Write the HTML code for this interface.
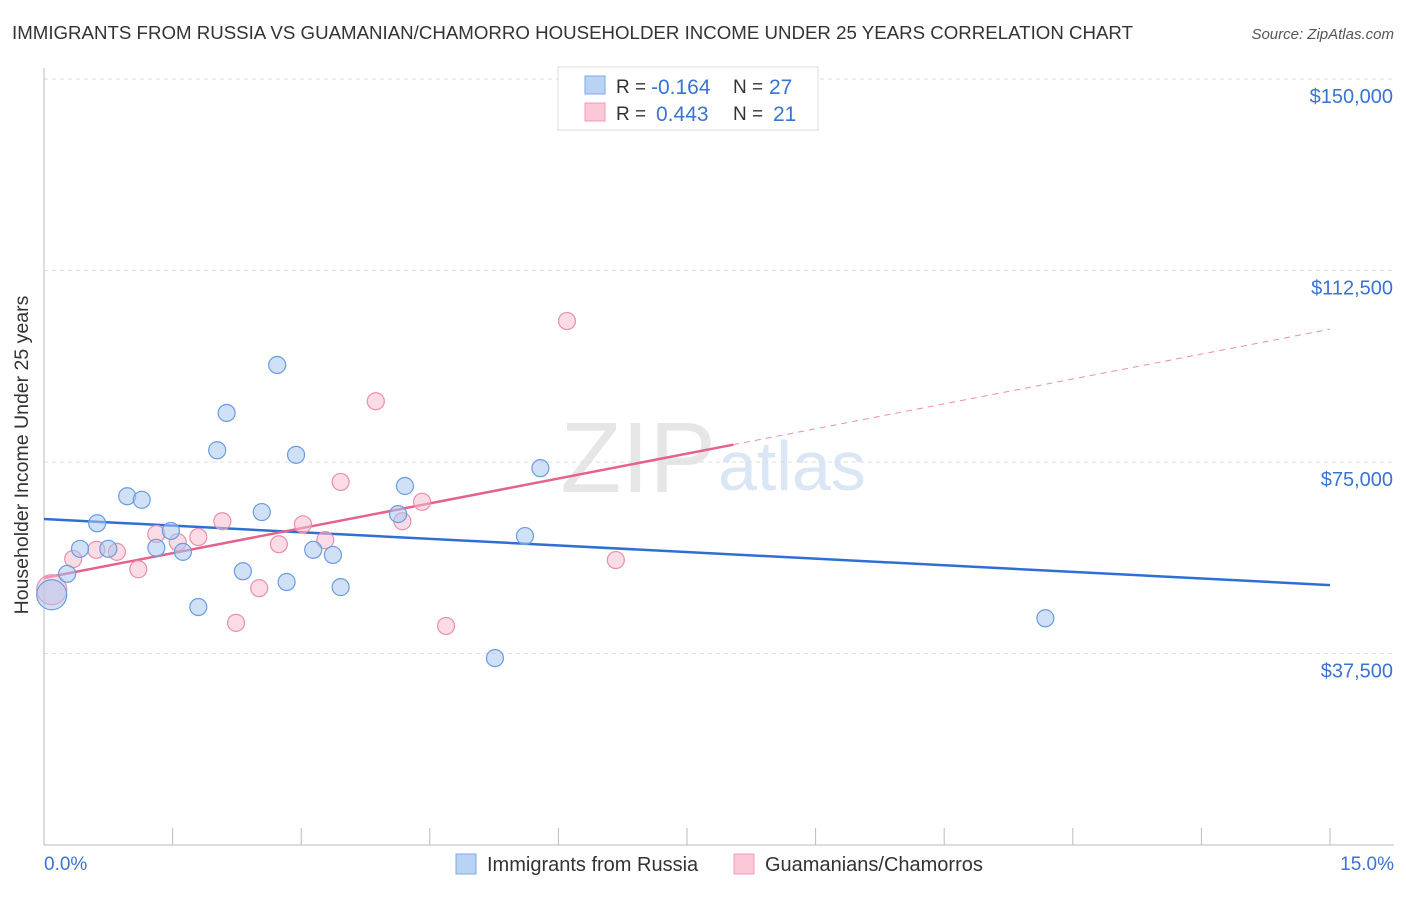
<!DOCTYPE html>
<html><head><meta charset="utf-8"><style>
body{margin:0;background:#fff;font-family:"Liberation Sans",sans-serif;}
svg text{font-family:"Liberation Sans",sans-serif;}
</style></head><body>
<svg id="chart" width="1406" height="892" xmlns="http://www.w3.org/2000/svg">
<text x="12" y="39" font-size="18" textLength="1121" lengthAdjust="spacingAndGlyphs" fill="#333">IMMIGRANTS FROM RUSSIA VS GUAMANIAN/CHAMORRO HOUSEHOLDER INCOME UNDER 25 YEARS CORRELATION CHART</text>
<text x="1394" y="39" font-size="15" fill="#555" font-style="italic" text-anchor="end">Source: ZipAtlas.com</text>
<text x="716" y="492" font-size="100" fill="#e6e6e6" font-family="Liberation Serif" text-anchor="end">ZIP</text>
<text x="718" y="490" font-size="70" fill="#dbe6f5">atlas</text>
<g id="grid"></g>
<line x1="44" y1="68" x2="44" y2="845" stroke="#bbb"/>
<line x1="44" y1="845" x2="1394" y2="845" stroke="#bbb"/>
<g id="lines"></g>
<g id="points"></g>
<text x="28" y="455" font-size="19.5" fill="#333" text-anchor="middle" transform="rotate(-90 28 455)">Householder Income Under 25 years</text>
<text x="44" y="870" font-size="19" fill="#3b73d1">0.0%</text>
<text x="1394" y="870" font-size="19" fill="#3b73d1" text-anchor="end">15.0%</text>
<g>
<rect x="558" y="67" width="260" height="63" fill="#fff" stroke="#ddd"/>
<rect x="585" y="76" width="20" height="18" fill="#b9d3f5" stroke="#7ea8e4"/>
<rect x="585" y="103" width="20" height="18" fill="#fbc8d8" stroke="#ec9bb5"/>
<text x="616" y="93" font-size="19" fill="#333">R =</text>
<text x="651" y="94" font-size="21" fill="#3b73d1">-0.164</text>
<text x="733" y="93" font-size="19" fill="#333">N =</text>
<text x="769" y="94" font-size="21" fill="#3b73d1">27</text>
<text x="616" y="120" font-size="19" fill="#333">R =</text>
<text x="656" y="121" font-size="21" fill="#3b73d1">0.443</text>
<text x="733" y="120" font-size="19" fill="#333">N =</text>
<text x="773" y="121" font-size="21" fill="#3b73d1">21</text>
</g>
<g>
<rect x="456" y="854" width="20" height="20" fill="#b9d3f5" stroke="#7ea8e4"/>
<text x="487" y="871" font-size="20" fill="#333">Immigrants from Russia</text>
<rect x="734" y="854" width="20" height="20" fill="#fbc8d8" stroke="#ec9bb5"/>
<text x="765" y="871" font-size="20" fill="#333">Guamanians/Chamorros</text>
</g>
</svg>
<script>
const yTicks=[37500,75000,112500,150000];
const yTickLabels=["$37,500","$75,000","$112,500","$150,000"];
const xTickVals=[0,1.5,3,4.5,6,7.5,9,10.5,12,13.5,15];
const russiaX=[2.72,2.13,2.02,2.94,0.97,1.14,4.21,2.54,4.13,0.62,1.48,0.42,0.75,1.31,1.62,3.14,3.37,0.27,2.32,2.83,3.46,1.80,0.09,5.79,5.61,5.26,11.68];
const russiaY=[94000,84600,77300,76400,68300,67600,70300,65200,64800,63000,61500,58000,58000,58200,57400,57800,56800,53100,53600,51500,50500,46600,49000,73800,60500,36600,44400];
const russiaSize=[1,1,1,1,1,1,1,1,1,1,1,1,1,1,1,1,1,1,1,1,1,1,2,1,1,1,1];
const guamX=[3.87,3.46,4.41,2.08,3.02,4.18,1.31,1.56,1.80,0.61,0.85,0.34,2.74,3.28,1.10,2.51,2.24,4.69,0.09,6.10,6.67];
const guamY=[86900,71100,67200,63400,62800,63400,60900,59300,60300,57800,57400,56000,58900,59700,54000,50300,43500,42900,50000,102600,55800];
const guamSize=[1,1,1,1,1,1,1,1,1,1,1,1,1,1,1,1,1,1,2,1,1];
const russiaTrend=[63830,50900];
const guamTrend=[52280,101000];
const guamSolidEnd=8.04;
const NS="http://www.w3.org/2000/svg";
const xs=v=>44+v/15*1286;
const ys=v=>845-v/37500*191.5;
function mk(tag,attrs,parent){const e=document.createElementNS(NS,tag);for(const k in attrs)e.setAttribute(k,attrs[k]);document.getElementById(parent).appendChild(e);return e;}
yTicks.forEach((t,i)=>{
 const l=mk('line',{x1:44,x2:1394,y1:ys(t),y2:ys(t),stroke:'#ddd','stroke-dasharray':'4,4'},'grid');
 
 
 const tx=mk('text',{x:1393,y:ys(t)+24,'font-size':20,fill:'#3b73d1','text-anchor':'end'},'grid');
 tx.textContent=yTickLabels[i];
 
 
});
xTickVals.forEach(v=>{
 const l=mk('line',{x1:xs(v),x2:xs(v),y1:828,y2:845,stroke:'#bbb'},'grid');
 
 
});
function pts(X,Y,S,fill,stroke,name){
 X.forEach((x,i)=>{
  const c=mk('circle',{cx:xs(x),cy:ys(Y[i]),r:S[i]>1?15:8.5,fill:fill,'fill-opacity':0.55,stroke:stroke,'stroke-width':1.2},'points');
  
  
 });
}
pts(guamX,guamY,guamSize,'#f8bed1','#e98fad','guamanian-point');
pts(russiaX,russiaY,russiaSize,'#a9c7ef','#6a9ce0','russia-point');
let l1=mk('line',{x1:xs(0),y1:ys(russiaTrend[0]),x2:xs(15),y2:ys(russiaTrend[1]),stroke:'#2f6fd4','stroke-width':2.5},'lines');


const gAt=x=>guamTrend[0]+(guamTrend[1]-guamTrend[0])*x/15;
let l2=mk('line',{x1:xs(0),y1:ys(gAt(0)),x2:xs(guamSolidEnd),y2:ys(gAt(guamSolidEnd)),stroke:'#e5628c','stroke-width':2.5},'lines');


let l3=mk('line',{x1:xs(guamSolidEnd),y1:ys(gAt(guamSolidEnd)),x2:xs(15),y2:ys(gAt(15)),stroke:'#e98fad','stroke-width':1,'stroke-dasharray':'6,5'},'lines');


</script>
</body></html>
